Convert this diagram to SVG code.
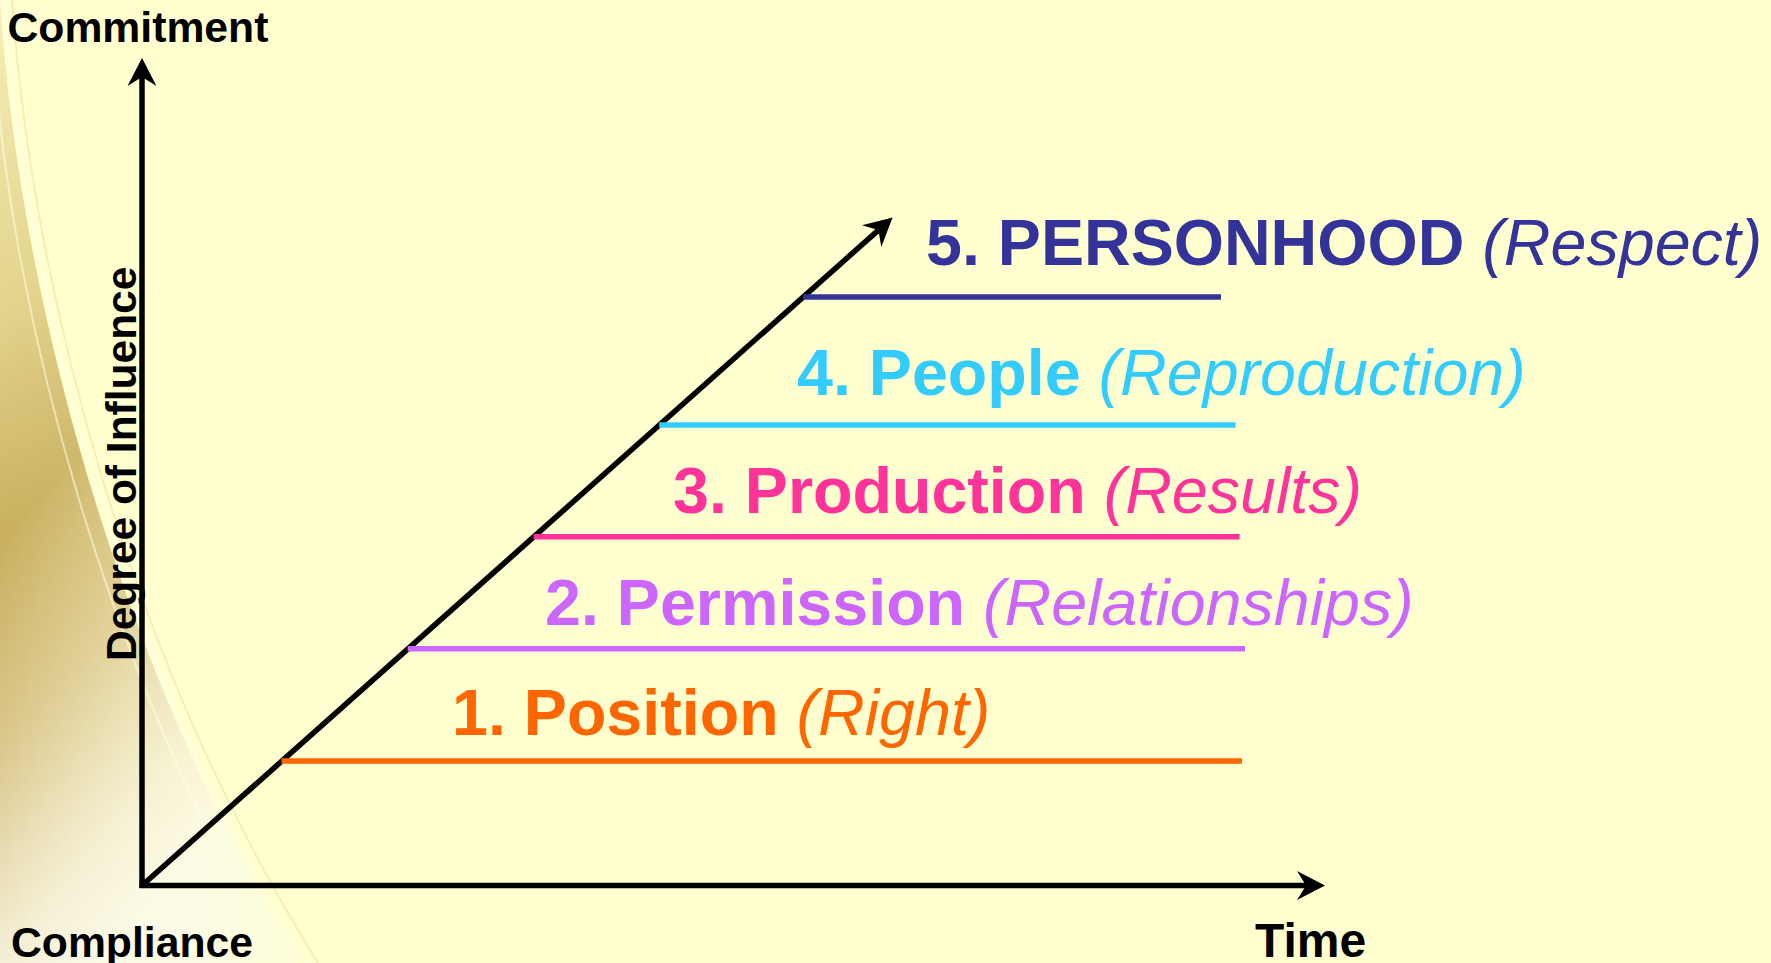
<svg xmlns="http://www.w3.org/2000/svg" width="1771" height="963" viewBox="0 0 1771 963">
  <style>
    .axis { stroke: #000; stroke-width: 5.5; fill: none; }
    .step { stroke-width: 5.5; fill: none; }
    .lbl { font-family: "Liberation Sans", Arial, sans-serif; font-size: 64.6px; }
    .b { font-weight: bold; }
    .i { font-style: italic; font-weight: normal; }
    .ax { font-family: "Liberation Sans", Arial, sans-serif; font-weight: bold; fill: #000; }
  </style>
  <defs>
    <marker id="arrow" markerUnits="userSpaceOnUse" viewBox="0 -15 30 30" markerWidth="30" markerHeight="30" refX="9" refY="0" orient="auto">
      <path d="M0,-14.5 L28,0 L0,14.5 L9,0 Z" fill="#000"/>
    </marker>
    <linearGradient id="gold" x1="0" y1="0" x2="0.35" y2="1">
      <stop offset="0" stop-color="#F6EFB8"/>
      <stop offset="0.3" stop-color="#E2D28A"/>
      <stop offset="0.5" stop-color="#C9AF5E"/>
      <stop offset="0.7" stop-color="#DCC98F"/>
      <stop offset="0.88" stop-color="#F3EDD2"/>
      <stop offset="1" stop-color="#FCFAEC"/>
    </linearGradient>
    <linearGradient id="fadeR" x1="0" y1="0" x2="1" y2="0">
      <stop offset="0" stop-color="#FFFFD0" stop-opacity="0"/>
      <stop offset="0.75" stop-color="#FFFFD0" stop-opacity="0.35"/>
      <stop offset="1" stop-color="#FFFFD0" stop-opacity="0.8"/>
    </linearGradient>
  </defs>

  <rect id="background" x="0" y="0" width="1771" height="963" fill="#FFFFD0"/>
  <g id="swoosh">
    <path d="M0,0 C18,280 110,650 300,963 L0,963 Z" fill="url(#gold)"/>
    <path d="M0,0 C18,280 110,650 300,963 L0,963 Z" fill="url(#fadeR)"/>
    <path d="M4,0 C24,290 120,660 305,963" stroke="#FFFFE6" stroke-width="3" fill="none" opacity="0.7"/>
    <path d="M-6,60 C14,320 105,670 280,963" stroke="#FFFFE6" stroke-width="2" fill="none" opacity="0.55"/>
    <path d="M12,0 C34,300 132,665 318,963" stroke="#EDE3A8" stroke-width="2" fill="none" opacity="0.6"/>
  </g>

  <g id="connectors">
    <line class="axis" x1="142" y1="888" x2="142" y2="77" marker-end="url(#arrow)"/>
    <line class="axis" x1="139.5" y1="885.5" x2="1306" y2="885.5" marker-end="url(#arrow)"/>
    <line class="axis" x1="142" y1="885.5" x2="878.4" y2="230.1" marker-end="url(#arrow)"/>
  </g>

  <g id="axis-labels">
    <text id="commitment" class="ax" x="7.5" y="41.7" font-size="42.7">Commitment</text>
    <text id="compliance" class="ax" x="11" y="956.7" font-size="42.7">Compliance</text>
    <text id="time" class="ax" x="1255" y="956.5" font-size="48">Time</text>
    <text id="degree" class="ax" font-size="42.5" transform="translate(136,661) rotate(-90)">Degree of Influence</text>
  </g>

  <g id="level-1">
    <line class="step" stroke="#FF6600" x1="281.5" y1="761" x2="1242" y2="761"/>
    <text class="lbl" fill="#FF6600" x="452" y="735"><tspan class="b">1. Position </tspan><tspan class="i">(Right)</tspan></text>
  </g>
  <g id="level-2">
    <line class="step" stroke="#CC66FF" x1="407.7" y1="648.7" x2="1245" y2="648.7"/>
    <text class="lbl" fill="#CC66FF" x="545" y="625"><tspan class="b">2. Permission </tspan><tspan class="i">(Relationships)</tspan></text>
  </g>
  <g id="level-3">
    <line class="step" stroke="#FF3399" x1="533.6" y1="536.7" x2="1239.6" y2="536.7"/>
    <text class="lbl" fill="#FF3399" x="673" y="513"><tspan class="b">3. Production </tspan><tspan class="i">(Results)</tspan></text>
  </g>
  <g id="level-4">
    <line class="step" stroke="#33CCFF" x1="659.2" y1="425" x2="1235.6" y2="425"/>
    <text class="lbl" fill="#33CCFF" x="797" y="395"><tspan class="b">4. People </tspan><tspan class="i">(Reproduction)</tspan></text>
  </g>
  <g id="level-5">
    <line class="step" stroke="#333399" x1="803.1" y1="297" x2="1221" y2="297"/>
    <text class="lbl" fill="#333399" x="926" y="265"><tspan class="b">5. PERSONHOOD </tspan><tspan class="i">(Respect)</tspan></text>
  </g>
</svg>
